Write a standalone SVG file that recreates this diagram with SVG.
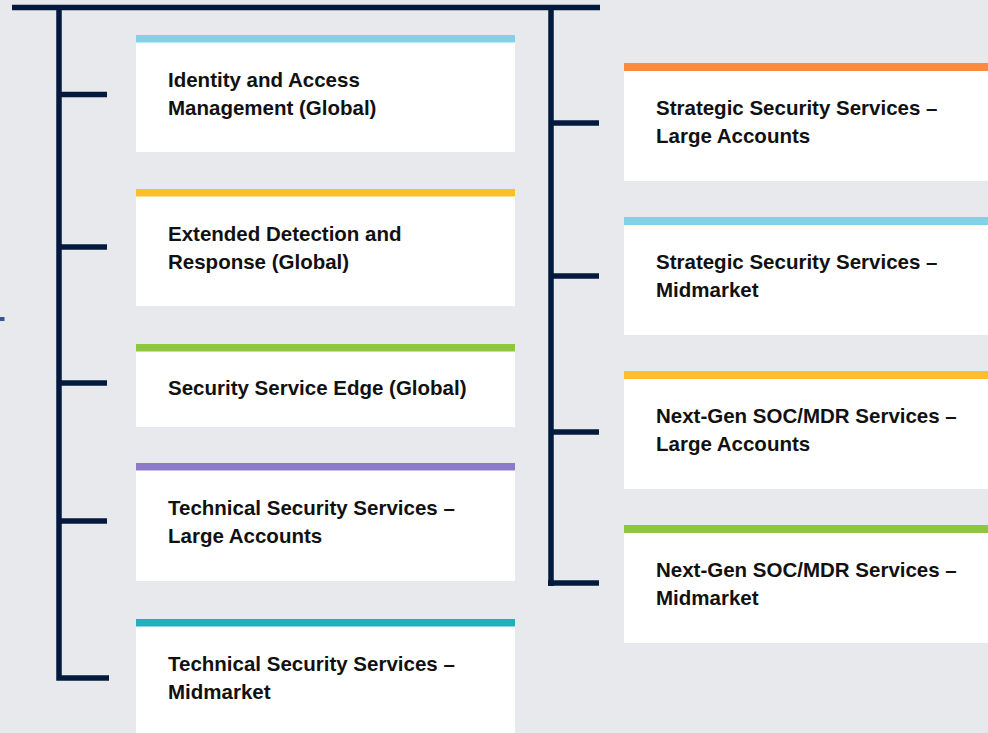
<svg xmlns="http://www.w3.org/2000/svg" width="988" height="733" viewBox="0 0 988 733">
<style>
.bg{fill:#e8e9ed}
.box{fill:#ffffff}
.t{font-family:"Liberation Sans",Arial,sans-serif;font-weight:bold;font-size:20.5px;fill:#111111}
.ln{stroke:#041a3d;stroke-width:5.5;fill:none;stroke-linecap:butt}
</style>
<rect class="bg" x="0" y="0" width="988" height="733"/>
<rect x="0" y="317" width="4.5" height="4" fill="#34558f"/>
<g id="connectors">
<line class="ln" x1="12" y1="7.5" x2="600" y2="7.5"/>
<polyline class="ln" points="59,5 59,678 109,678"/>
<line class="ln" x1="59" y1="94.5" x2="107" y2="94.5"/>
<line class="ln" x1="59" y1="247" x2="107" y2="247"/>
<line class="ln" x1="59" y1="383" x2="107" y2="383"/>
<line class="ln" x1="59" y1="521" x2="107" y2="521"/>
<line class="ln" x1="551" y1="5" x2="551" y2="586"/>
<line class="ln" x1="551" y1="123" x2="599" y2="123"/>
<line class="ln" x1="551" y1="276" x2="599" y2="276"/>
<line class="ln" x1="551" y1="432" x2="599" y2="432"/>
<line class="ln" x1="548" y1="583" x2="599" y2="583"/>
</g>
<g id="n1">
<rect class="box" x="136" y="35" width="379" height="117"/>
<rect x="136" y="35" width="379" height="7.5" fill="#84d0e4"/>
<text class="t" x="168" y="86.5">Identity and Access</text>
<text class="t" x="168" y="114.5">Management (Global)</text>
</g>
<g id="n2">
<rect class="box" x="136" y="189" width="379" height="117"/>
<rect x="136" y="189" width="379" height="7.5" fill="#fbbf2a"/>
<text class="t" x="168" y="240.5">Extended Detection and</text>
<text class="t" x="168" y="268.5">Response (Global)</text>
</g>
<g id="n3">
<rect class="box" x="136" y="344" width="379" height="83"/>
<rect x="136" y="344" width="379" height="7.5" fill="#8dc63f"/>
<text class="t" x="168" y="395">Security Service Edge (Global)</text>
</g>
<g id="n4">
<rect class="box" x="136" y="463" width="379" height="118"/>
<rect x="136" y="463" width="379" height="7.5" fill="#8e7acb"/>
<text class="t" x="168" y="514.5">Technical Security Services –</text>
<text class="t" x="168" y="542.5">Large Accounts</text>
</g>
<g id="n5">
<rect class="box" x="136" y="619" width="379" height="114"/>
<rect x="136" y="619" width="379" height="7.5" fill="#1fb0bb"/>
<text class="t" x="168" y="670.5">Technical Security Services –</text>
<text class="t" x="168" y="698.5">Midmarket</text>
</g>
<g id="n6">
<rect class="box" x="624" y="63" width="364" height="118"/>
<rect x="624" y="63" width="364" height="8" fill="#ff8a3a"/>
<text class="t" x="656" y="114.5">Strategic Security Services –</text>
<text class="t" x="656" y="142.5">Large Accounts</text>
</g>
<g id="n7">
<rect class="box" x="624" y="217" width="364" height="118"/>
<rect x="624" y="217" width="364" height="8" fill="#84d0e4"/>
<text class="t" x="656" y="268.5">Strategic Security Services –</text>
<text class="t" x="656" y="296.5">Midmarket</text>
</g>
<g id="n8">
<rect class="box" x="624" y="371" width="364" height="118"/>
<rect x="624" y="371" width="364" height="8" fill="#fbbf2a"/>
<text class="t" x="656" y="422.5">Next-Gen SOC/MDR Services –</text>
<text class="t" x="656" y="450.5">Large Accounts</text>
</g>
<g id="n9">
<rect class="box" x="624" y="525" width="364" height="118"/>
<rect x="624" y="525" width="364" height="8" fill="#8dc63f"/>
<text class="t" x="656" y="576.5">Next-Gen SOC/MDR Services –</text>
<text class="t" x="656" y="604.5">Midmarket</text>
</g>
</svg>
